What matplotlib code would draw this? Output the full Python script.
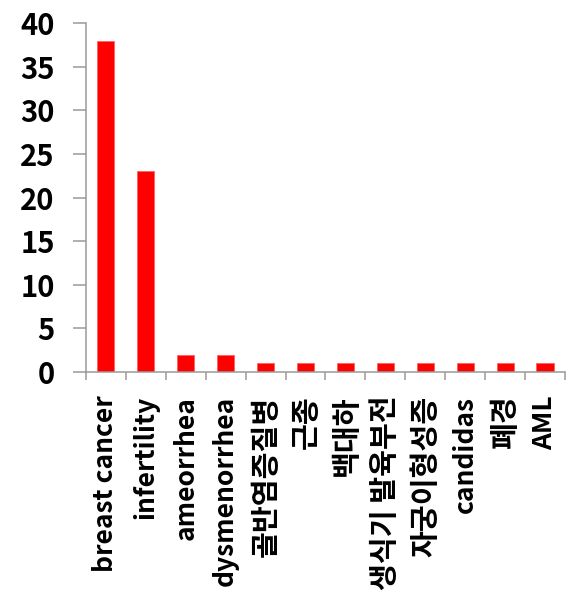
import numpy as np
import matplotlib.pyplot as plt

plt.rcParams['font.family'] = ['Noto Sans CJK KR', 'DejaVu Sans']

# diagnosis names and patient counts
labels = ['breast cancer', 'infertility', 'ameorrhea', 'dysmenorrhea',
          '골반염증질병', '근종', '백대하', '생식기 발육부전', '자궁이형성증',
          'candidas', '폐경', 'AML']
counts = [38, 23, 2, 2, 1, 1, 1, 1, 1, 1, 1, 1]

fig = plt.figure(figsize=(5.69, 6.08), dpi=100)
ax = fig.add_axes([0.151, 0.388, 0.842, 0.574])

x = np.arange(len(labels))
ax.bar(x, counts, width=0.43, color='#ff0000', edgecolor='#ff6060', linewidth=0.6)

ax.set_xlim(-0.5, len(labels) - 0.5)
ax.set_ylim(0, 40)
ax.set_yticks(range(0, 41, 5))
ax.tick_params(axis='y', labelsize=21, length=9.5, width=1.1, color='#9a9a9a', pad=13)
for t in ax.get_yticklabels():
    t.set_fontweight('bold')

# boundary ticks on the x axis, labels at the bar centres
ax.set_xticks(np.arange(len(labels) + 1) - 0.5)
ax.set_xticklabels([])
ax.tick_params(axis='x', which='major', length=6, width=1.1, color='#9a9a9a')
ax.set_xticks(x, minor=True)
ax.set_xticklabels(labels, minor=True, rotation=90, fontsize=19, fontweight='bold', va='top')
ax.tick_params(axis='x', which='minor', length=0, pad=17)

# hangul labels run a bit larger than the latin ones
for t in ax.get_xticklabels(minor=True):
    if any('\uac00' <= ch <= '\ud7a3' for ch in t.get_text()):
        t.set_fontsize(21)

for side in ['top', 'right']:
    ax.spines[side].set_visible(False)
for side in ['left', 'bottom']:
    ax.spines[side].set_color('#9a9a9a')
    ax.spines[side].set_linewidth(1.1)

fig.savefig('out.png', dpi=100)
